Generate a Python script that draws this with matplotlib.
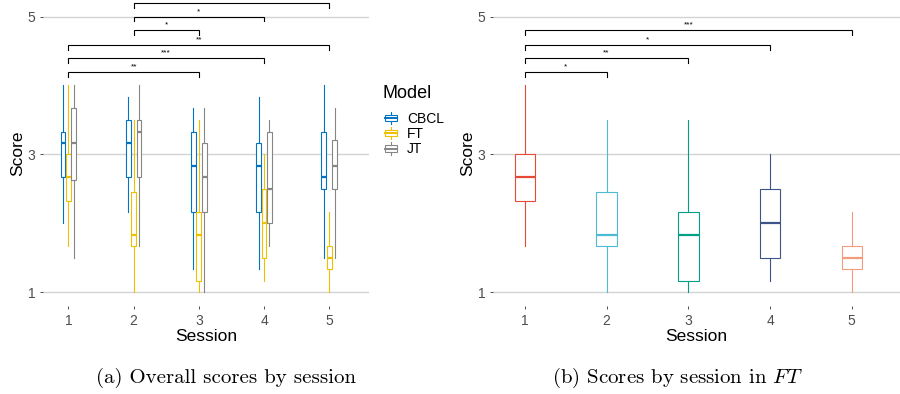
import matplotlib
matplotlib.use("Agg")
import matplotlib.pyplot as plt
from matplotlib.legend_handler import HandlerBase
from matplotlib.patches import Rectangle, Patch
from matplotlib.lines import Line2D
import numpy as np

plt.rcParams["font.family"] = "Liberation Sans"
plt.rcParams["mathtext.fontset"] = "cm"

# box stats: (whisker low, q1, median, q3, whisker high)
sessions = [1, 2, 3, 4, 5]
models = ["CBCL", "FT", "JT"]
model_colors = ["#0073C2", "#EFC000", "#868686"]
session_colors = ["#E64B35", "#4DBBD5", "#00A087", "#3C5488", "#F39B7F"]

cbcl = [[2.00, 2.67, 3.17, 3.33, 4.00],
        [2.17, 2.67, 3.17, 3.50, 3.83],
        [1.33, 2.17, 2.83, 3.33, 3.67],
        [1.33, 2.17, 2.83, 3.17, 3.83],
        [1.50, 2.50, 2.67, 3.33, 4.00]]
ft = [[1.67, 2.33, 2.67, 3.00, 4.00],
      [1.00, 1.67, 1.83, 2.46, 3.50],
      [1.00, 1.17, 1.83, 2.17, 3.50],
      [1.17, 1.50, 2.00, 2.50, 3.00],
      [1.00, 1.33, 1.50, 1.67, 2.17]]
jt = [[1.50, 2.63, 3.17, 3.67, 4.00],
      [1.67, 2.67, 3.33, 3.50, 4.00],
      [1.00, 2.17, 2.67, 3.17, 3.67],
      [1.67, 2.00, 2.50, 3.33, 3.50],
      [1.50, 2.50, 2.83, 3.21, 3.67]]
model_stats = [cbcl, ft, jt]

# significance brackets: (from, to), height, label
left_pairs = [(1, 3), (1, 4), (1, 5), (2, 3), (2, 4), (2, 5)]
left_heights = [4.20, 4.40, 4.59, 4.80, 5.00, 5.20]
left_labels = ["**", "***", "**", "*", "*", "*"]
right_pairs = [(1, 2), (1, 3), (1, 4), (1, 5)]
right_heights = [4.20, 4.40, 4.59, 4.80]
right_labels = ["*", "**", "*", "***"]

YLIM = (0.80, 5.24)


def stats(rows):
    return [dict(whislo=r[0], q1=r[1], med=r[2], q3=r[3], whishi=r[4], fliers=[])
            for r in rows]


def draw_box(ax, rows, pos, width, color):
    for st, p, c in zip(stats(rows), pos, color):
        ax.bxp([st], positions=[p], widths=width, showcaps=False, patch_artist=True,
               boxprops=dict(facecolor="white", edgecolor=c, linewidth=0.8),
               whiskerprops=dict(color=c, linewidth=0.8),
               medianprops=dict(color=c, linewidth=1.6),
               manage_ticks=False, zorder=2)


def brackets(ax, pairs, heights, labels):
    d = 0.07
    for (a, b), h, lab in zip(pairs, heights, labels):
        ax.plot([a, a, b, b], [h - d, h, h, h - d], color="black", lw=0.8,
                solid_joinstyle="miter", zorder=3)
        # the top label falls outside the panel in the original, so it is not shown
        if h + 0.05 < YLIM[1]:
            ax.text((a + b) / 2, h + 0.05, lab, ha="center", va="baseline",
                    fontsize=6)


def style(ax):
    ax.set_ylim(*YLIM)
    ax.set_xlim(0.61, 5.61)
    ax.set_yticks([1, 3, 5])
    ax.set_xticks(sessions)
    for s in ax.spines.values():
        s.set_visible(False)
    ax.grid(axis="y", color="#d3d3d3", lw=1.0, zorder=0)
    ax.set_axisbelow(True)
    ax.tick_params(colors="#333333", labelcolor="#4d4d4d", labelsize=10,
                   length=2.5, width=0.6, pad=3)
    ax.set_xlabel("Session", fontsize=12.5, labelpad=1)
    ax.set_ylabel("Score", fontsize=12.5, labelpad=2)


fig = plt.figure(figsize=(9, 3.94), dpi=100)
ax1 = fig.add_axes([43 / 900, 88 / 394, 326 / 900, 306 / 394])
ax2 = fig.add_axes([493 / 900, 88 / 394, 407 / 900, 306 / 394])

offsets = [-0.083, 0.0, 0.083]
x = np.array(sessions, dtype=float)
for rows, off, col in zip(model_stats, offsets, model_colors):
    draw_box(ax1, rows, x + off, 0.075, [col] * len(sessions))
brackets(ax1, left_pairs, left_heights, left_labels)
style(ax1)

draw_box(ax2, ft, x, 0.25, session_colors)
brackets(ax2, right_pairs, right_heights, right_labels)
style(ax2)
ax2.set_xlim(0.61, 5.59)


class BoxKey(HandlerBase):
    def create_artists(self, legend, orig, xdescent, ydescent, width, height,
                       fontsize, trans):
        c = orig.get_edgecolor()
        x0, y0 = -xdescent, -ydescent
        cx = x0 + width / 2
        rect = Rectangle((x0, y0 + height * 0.25), width, height * 0.5,
                         facecolor="white", edgecolor=c, lw=0.8, transform=trans)
        med = Line2D([x0, x0 + width], [y0 + height / 2] * 2, color=c, lw=1.4,
                     transform=trans)
        w1 = Line2D([cx, cx], [y0, y0 + height * 0.25], color=c, lw=0.8,
                    transform=trans)
        w2 = Line2D([cx, cx], [y0 + height * 0.75, y0 + height], color=c, lw=0.8,
                    transform=trans)
        return [w1, w2, rect, med]


handles = [Patch(edgecolor=c, facecolor="white") for c in model_colors]
leg = fig.legend(handles, models, handler_map={Patch: BoxKey()},
                 loc="upper left", bbox_to_anchor=(379 / 900, 1 - 106 / 394),
                 frameon=False, fontsize=10,
                 handlelength=0.9, handleheight=1.0, handletextpad=0.7,
                 labelspacing=0.1, borderaxespad=0)
# legend title placed on its own, ggplot leaves a wider gap under it
fig.text(383 / 900, 1 - 93 / 394, "Model", ha="left", va="center", fontsize=13)

fig.text(226 / 900, 0.041, "(a) Overall scores by session", ha="center",
         va="center", family="cmr10", fontsize=15)
fig.text(677 / 900, 0.041, "(b) Scores by session in $FT$", ha="center",
         va="center", family="cmr10", fontsize=15)

fig.savefig("out.png", dpi=100)
